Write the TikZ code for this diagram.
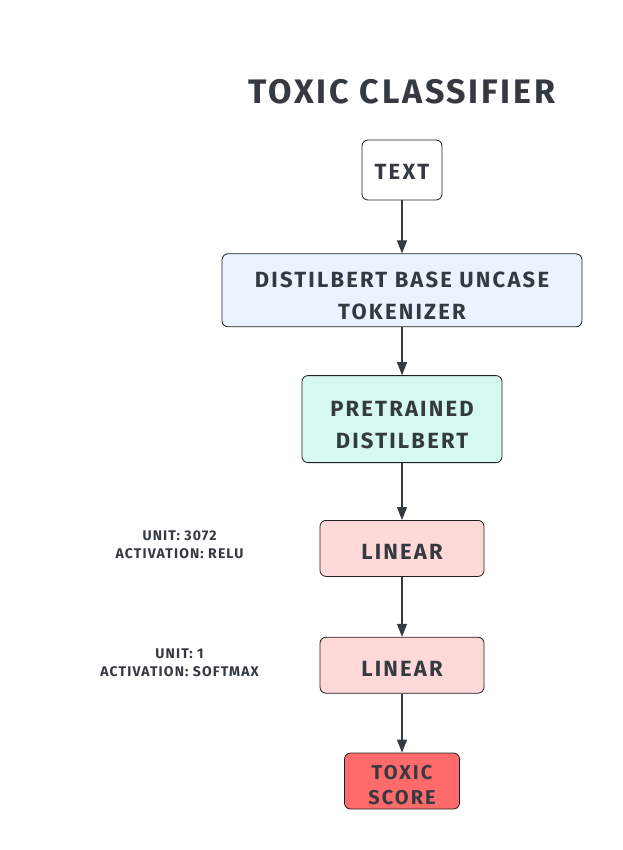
\documentclass[tikz,border=0pt]{standalone}
\usepackage{fontspec}
\setmainfont{Fira Sans}
\usepackage{tikz}
\usetikzlibrary{arrows.meta, positioning}
\definecolor{cInk}   {HTML}{343A40}
\definecolor{cLine}  {HTML}{1E1E1E}
\definecolor{cBlue}  {HTML}{EAF3FF}
\definecolor{cTeal}  {HTML}{D5F8F0}
\definecolor{cPink}  {HTML}{FFD9D9}
\definecolor{cRed}   {HTML}{FF6B6B}
% lower the ink of a box label without changing its size
\newcommand{\shiftdown}[2][3pt]{\raisebox{-#1}[\height][\depth]{\begin{tabular}{@{}c@{}}#2\end{tabular}}}

\begin{document}
\begin{tikzpicture}[
  x=1pt, y=1pt,
  block/.style 2 args={
    draw=cLine, fill=#1, rounded corners=6pt, line width=0.8pt,
    minimum width=#2, inner sep=0pt, align=center, text=cInk,
    font=\fontsize{22}{32}\selectfont\bfseries\addfontfeatures{LetterSpace=10},
  },
  arr/.style={-{Triangle[length=13pt,width=10pt]}, line width=1.1pt, color=cInk},
  note/.style={font=\fontsize{14}{18}\selectfont\bfseries\addfontfeatures{LetterSpace=8},
    text=cInk, align=center},
]
\useasboundingbox (0,0) rectangle (622,-850);

%% ── Title ────────────────────────────────────────────────────────────
\node[font=\fontsize{34}{40}\selectfont\bfseries\addfontfeatures{LetterSpace=8},
  text=cInk] (title) at (402,-92) {TOXIC CLASSIFIER};

%% ── Pipeline ─────────────────────────────────────────────────────────
\node[block={white}{80pt}, minimum height=60pt] (text) at (402,-170)
  {\shiftdown{TEXT}};

\node[block={cBlue}{360pt}, minimum height=73pt, below=53pt of text] (tok)
  {\shiftdown[7pt]{DISTILBERT BASE UNCASE\\TOKENIZER}};

\node[block={cTeal}{200pt}, minimum height=87pt, below=48pt of tok] (bert)
  {\shiftdown[7pt]{PRETRAINED\\DISTILBERT}};

\node[block={cPink}{164pt}, minimum height=56pt, below=57pt of bert] (lin1)
  {\shiftdown[5pt]{LINEAR}};

\node[block={cPink}{164pt}, minimum height=56pt, below=60pt of lin1] (lin2)
  {\shiftdown[5pt]{LINEAR}};

\node[block={cRed}{115pt}, minimum height=56pt, below=59pt of lin2,
  font=\fontsize{20}{25}\selectfont\bfseries\addfontfeatures{LetterSpace=10}] (score)
  {\shiftdown[6pt]{TOXIC\\SCORE}};

%% ── Layer notes ──────────────────────────────────────────────────────
\node[note] (unit1) at ([xshift=-140pt, yshift=4pt]lin1.west)
  {UNIT: 3072\\ACTIVATION: RELU};
\node[note] (unit2) at ([xshift=-140pt, yshift=2pt]lin2.west)
  {UNIT: 1\\ACTIVATION: SOFTMAX};

%% ── Arrows ───────────────────────────────────────────────────────────
\draw[arr] (text) -- (tok);
\draw[arr] (tok) -- (bert);
\draw[arr] (bert) -- (lin1);
\draw[arr] (lin1) -- (lin2);
\draw[arr] (lin2) -- (score);

\end{tikzpicture}
\end{document}
